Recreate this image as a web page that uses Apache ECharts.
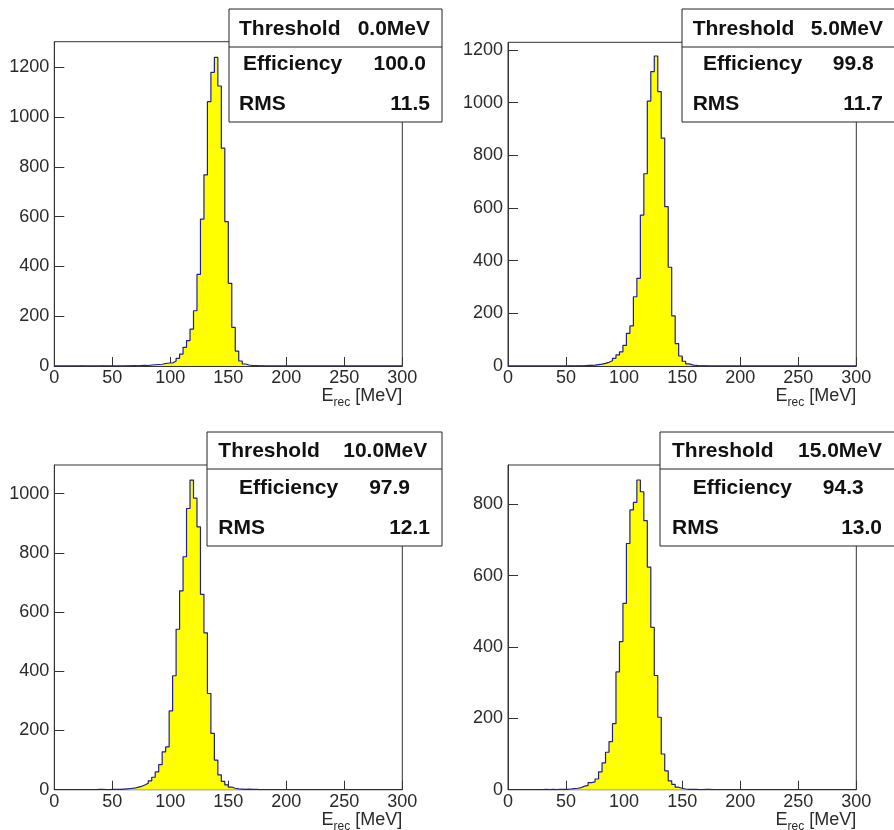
<!DOCTYPE html>
<html><head><meta charset="utf-8">
<script src="https://cdn.jsdelivr.net/npm/echarts@6/dist/echarts.min.js"></script>
<style>html,body{margin:0;padding:0;background:#fff}#c{width:894px;height:830px}</style>
</head><body><div id="c"></div>
<script>
// ---- data ----
const binStart = 0;      // MeV
const binWidth = 3;      // MeV
const xTickLabels = ['0','50','100','150','200','250','300'];
const thresholds = ['0.0MeV', '5.0MeV', '10.0MeV', '15.0MeV'];
const efficiencies = ['100.0', '99.8', '97.9', '94.3'];
const rmsValues = ['11.5', '11.7', '12.1', '13.0'];
const yMaxes = [1303, 1229, 1097, 910];

const countsThr0 = [
  0,0,0,0,0,0,0,1,0,0,
  0,0,0,1,0,0,0,0,0,0,
  1,1,2,1,2,3,2,4,5,6,
  7,10,12,12,20,31,48,75,102,148,
  222,368,590,768,1062,1180,1240,1125,875,580,
  332,155,60,20,8,4,2,2,1,1,
  0,0,0,0,0,0,0,0,0,0,
  0,0,0,0,0,0,0,0,0,0,
  0,0,0,0,0,0,0,0,0,0,
  0,0,0,0,0,0,0,0,0,0
];
const countsThr5 = [
  0,0,0,0,0,0,0,0,0,0,
  0,0,0,0,0,0,0,1,0,1,
  1,1,2,2,3,5,7,10,14,20,
  29,42,54,78,124,152,263,333,573,730,
  1006,1118,1177,1042,865,605,375,190,85,38,
  18,8,4,2,1,1,1,0,0,0,
  0,0,0,0,0,0,0,0,0,0,
  0,0,0,0,0,0,0,0,0,0,
  0,0,0,0,0,0,0,0,0,0,
  0,0,0,0,0,0,0,0,0,0
];
const countsThr10 = [
  0,0,0,0,0,0,0,0,0,0,
  0,0,1,1,0,0,1,1,1,2,
  3,4,5,8,11,16,22,30,42,60,
  85,128,145,266,385,542,672,787,950,1046,
  985,888,660,530,325,190,100,50,28,16,
  9,5,3,2,1,2,1,1,0,0,
  0,0,0,0,0,0,0,0,0,0,
  0,0,0,0,0,0,0,0,0,0,
  0,0,0,0,0,0,0,0,0,0,
  0,0,0,0,0,0,0,0,0,0
];
const countsThr15 = [
  0,0,0,0,0,0,0,0,0,0,
  1,0,1,0,1,1,1,2,3,4,
  6,10,12,20,22,30,50,75,105,135,
  185,330,415,522,690,784,805,868,835,754,
  624,455,320,203,100,53,25,15,7,4,
  2,1,1,1,0,0,1,1,0,0,
  0,0,0,0,0,0,0,0,0,0,
  0,0,0,0,0,0,0,0,0,0,
  0,0,0,0,0,0,0,0,0,0,
  0,0,0,0,0,0,0,0,0,0
];
const allCounts = [countsThr0, countsThr5, countsThr10, countsThr15];

// ---- layout ----
const FONT = "'Liberation Sans', Arial, Helvetica, sans-serif";
const grids = [
  {left: 54.3, top: 41.7, width: 348, height: 324.3},
  {left: 508, top: 42.3, width: 348.3, height: 323.7},
  {left: 54.3, top: 465, width: 348, height: 324.7},
  {left: 508, top: 465, width: 348.3, height: 324.7}
];
const boxes = [
  {x: 229, y: 9, w: 213, h: 113, sep: 47, r1: 29, r2: 64, r3: 104, thrL: 239, thrR: 430, effL: 243, effR: 426, rmsL: 239, rmsR: 430},
  {x: 682, y: 9, w: 230, h: 113, sep: 47, r1: 29, r2: 64, r3: 104, thrL: 692.7, thrR: 883, effL: 703, effR: 873.7, rmsL: 692.7, rmsR: 883},
  {x: 207, y: 432, w: 235, h: 114, sep: 469, r1: 451.7, r2: 488.3, r3: 528.3, thrL: 218.3, thrR: 427.3, effL: 239, effR: 410, rmsL: 218.3, rmsR: 430},
  {x: 660, y: 432, w: 250, h: 114, sep: 469, r1: 451.7, r2: 488.3, r3: 528.3, thrL: 672, thrR: 882, effL: 692.7, effR: 863.7, rmsL: 672, rmsR: 882}
];

function stepData(counts) {
  const d = counts.map((c, i) => [binStart + i * binWidth, c]);
  d.push([binStart + counts.length * binWidth, counts[counts.length - 1]]);
  return d;
}

const AX = '#333';
const LBL = '#2a2a2a';
const xAxes = [], yAxes = [], series = [], graphics = [];
grids.forEach((g, i) => {
  xAxes.push({
    type: 'value', gridIndex: i, min: 0, max: 300, interval: 50,
    axisLine: {show: true, onZero: false, lineStyle: {color: AX, width: 1}},
    axisTick: {show: true, inside: true, length: 9, lineStyle: {color: AX}},
    splitLine: {show: false},
    axisLabel: {fontSize: 18, color: LBL, fontFamily: FONT, margin: 3,
      formatter: v => xTickLabels[Math.round(v / 50)] ?? ''}
  });
  yAxes.push({
    type: 'value', gridIndex: i, min: 0, max: yMaxes[i], interval: 200,
    axisLine: {show: true, lineStyle: {color: AX, width: 1}},
    axisTick: {show: true, inside: true, length: 10, lineStyle: {color: AX}},
    splitLine: {show: false},
    axisLabel: {fontSize: 18, color: LBL, fontFamily: FONT, margin: 5, showMaxLabel: false,
      formatter: v => String(v)}
  });
  series.push({
    type: 'line', xAxisIndex: i, yAxisIndex: i, step: 'end',
    data: stepData(allCounts[i]), symbol: 'none', showSymbol: false,
    lineStyle: {color: '#1f1f8f', width: 1.2},
    areaStyle: {color: '#ffff00', opacity: 1},
    animation: false, silent: true
  });
  // axis title
  graphics.push({
    type: 'text', z: 50,
    x: g.left + g.width, y: g.top + g.height + 39,
    style: {
      text: '{e|E}{s|rec}{e| [MeV]}', align: 'right', verticalAlign: 'bottom',
      fill: LBL, font: '18px ' + FONT,
      rich: {
        e: {fontSize: 18, fontFamily: FONT, fill: LBL, lineHeight: 20, verticalAlign: 'bottom'},
        s: {fontSize: 12, fontFamily: FONT, fill: LBL, lineHeight: 20, verticalAlign: 'bottom', padding: [0, 0, -4, 0]}
      }
    }
  });
  // stats box
  const b = boxes[i];
  graphics.push({type: 'rect', z: 100, shape: {x: b.x, y: b.y, width: b.w, height: b.h},
    style: {fill: '#fff', stroke: '#222', lineWidth: 1}});
  graphics.push({type: 'line', z: 101, shape: {x1: b.x, y1: b.sep, x2: b.x + b.w, y2: b.sep},
    style: {stroke: '#222', lineWidth: 1}});
  const txt = (s, x, y, align) => ({type: 'text', z: 102, x, y,
    style: {text: s, align, verticalAlign: 'middle', fill: '#111', font: 'bold 21px ' + FONT}});
  graphics.push(txt('Threshold', b.thrL, b.r1, 'left'));
  graphics.push(txt(thresholds[i], b.thrR, b.r1, 'right'));
  graphics.push(txt('Efficiency', b.effL, b.r2, 'left'));
  graphics.push(txt(efficiencies[i], b.effR, b.r2, 'right'));
  graphics.push(txt('RMS', b.rmsL, b.r3, 'left'));
  graphics.push(txt(rmsValues[i], b.rmsR, b.r3, 'right'));
});

const chart = echarts.init(document.getElementById('c'), null, {renderer: 'canvas'});
chart.setOption({
  animation: false,
  backgroundColor: '#fff',
  grid: grids.map(g => Object.assign({show: true, borderColor: AX, borderWidth: 1, backgroundColor: 'transparent'}, g)),
  xAxis: xAxes,
  yAxis: yAxes,
  series: series,
  graphic: graphics
});
</script></body></html>
